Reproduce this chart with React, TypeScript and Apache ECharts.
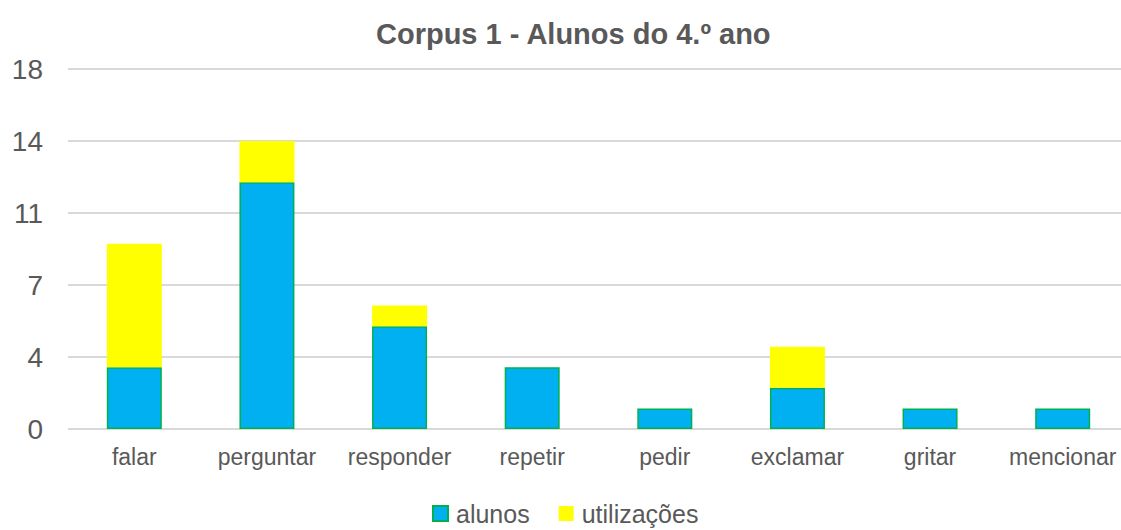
import React, { useEffect, useRef } from "react";
import * as echarts from "echarts";

const categories = ["falar", "perguntar", "responder", "repetir", "pedir", "exclamar", "gritar", "mencionar"];
const alunos = [3, 12, 5, 3, 1, 2, 1, 1];
const utilizacoes = [6, 2, 1, 0, 0, 2, 0, 0];
const yTickLabels = ["0", "4", "7", "11", "14", "18"];
const yMax = 17.5;
const yInterval = 3.5;

const FONT = "'Liberation Sans', Arial, sans-serif";
const TEXT = "#595959";

export default function App() {
  const ref = useRef<HTMLDivElement>(null);
  useEffect(() => {
    if (!ref.current) return;
    const chart = echarts.init(ref.current, undefined, { renderer: "svg" });
    chart.setOption({
      animation: false,
      backgroundColor: "#ffffff",
      textStyle: { fontFamily: FONT },
      title: {
        text: "Corpus 1 - Alunos do 4.º ano",
        left: 371,
        top: 14,
        textStyle: { fontFamily: FONT, fontSize: 29, fontWeight: "bold", color: TEXT },
      },
      legend: {
        left: 427,
        top: 496,
        itemWidth: 15,
        itemHeight: 15,
        itemGap: 29,
        icon: "rect",
        textStyle: { fontFamily: FONT, fontSize: 25, color: TEXT, padding: [0, 0, 0, 3] },
        data: ["alunos", "utilizações"],
      },
      grid: { left: 68, right: 0, top: 69, bottom: 101, containLabel: false },
      xAxis: {
        type: "category",
        data: categories,
        axisLine: { show: false },
        axisTick: { show: false },
        axisLabel: { fontFamily: FONT, fontSize: 23, color: TEXT, margin: 16, interval: 0 },
      },
      yAxis: {
        type: "value",
        min: 0,
        max: yMax,
        interval: yInterval,
        axisLine: { show: false },
        axisTick: { show: false },
        splitLine: { show: true, lineStyle: { color: "#d9d9d9", width: 2 } },
        axisLabel: {
          fontFamily: FONT,
          fontSize: 28,
          color: TEXT,
          margin: 25,
          formatter: (v: number) => yTickLabels[Math.round(v / yInterval)] ?? "",
        },
      },
      series: [
        {
          name: "alunos",
          type: "bar",
          stack: "total",
          data: alunos,
          barWidth: 55,
          itemStyle: { color: "#00B0F0", borderColor: "#00B050", borderWidth: 1.5 },
        },
        {
          name: "utilizações",
          type: "bar",
          stack: "total",
          data: utilizacoes,
          barWidth: 55,
          itemStyle: { color: "#FFFF00" },
        },
      ],
    });
    return () => chart.dispose();
  }, []);
  return (
    <div
      style={{ position: "absolute", left: 0, top: 0, width: 1121, height: 530, overflow: "hidden" }}
    >
      <div ref={ref} style={{ width: 1129, height: 530 }} />
    </div>
  );
}
